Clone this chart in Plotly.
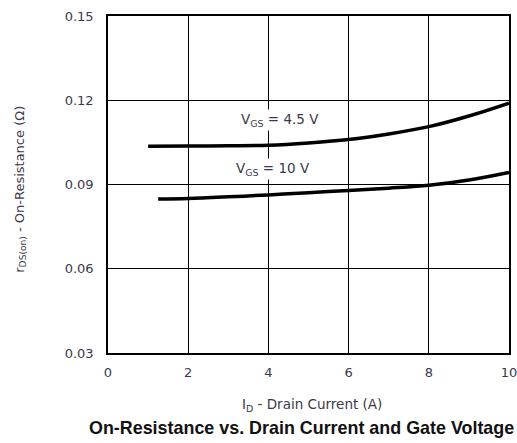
import plotly.graph_objects as go

id_45 = [1.0, 2.0, 3.0, 4.0, 5.0, 6.0, 7.0, 8.0, 9.0, 10.0]
r_45 = [0.1036, 0.1037, 0.1038, 0.1040, 0.1048, 0.1060, 0.1080, 0.1106, 0.1144, 0.1190]
id_10 = [1.25, 2.0, 3.0, 4.0, 5.0, 6.0, 7.0, 8.0, 9.0, 10.0]
r_10 = [0.0848, 0.0850, 0.0856, 0.0863, 0.0871, 0.0879, 0.0887, 0.0897, 0.0916, 0.0943]

x_ticks = [0, 2, 4, 6, 8, 10]
y_ticks = [0.03, 0.06, 0.09, 0.12, 0.15]
y_tick_text = ["0.03", "0.06", "0.09", "0.12", "0.15"]

FONT = "DejaVu Sans"
TXT = "#3a3a48"

fig = go.Figure()
fig.add_trace(go.Scatter(x=id_45, y=r_45, mode="lines", line=dict(color="black", width=3.5, shape="spline"),
                         showlegend=False, hoverinfo="skip"))
fig.add_trace(go.Scatter(x=id_10, y=r_10, mode="lines", line=dict(color="black", width=3.5, shape="spline"),
                         showlegend=False, hoverinfo="skip"))

fig.add_annotation(x=4.3, y=0.1129, text="V<sub>GS</sub> = 4.5 V", showarrow=False, bgcolor="white",
                   font=dict(family=FONT, size=13.5, color=TXT))
fig.add_annotation(x=4.12, y=0.0954, text="V<sub>GS</sub> = 10 V", showarrow=False, bgcolor="white",
                   font=dict(family=FONT, size=13.5, color=TXT))

fig.add_annotation(x=0.509, xref="paper", y=-0.153, yref="paper", yanchor="middle",
                   text="I<sub>D</sub> - Drain Current (A)", showarrow=False,
                   font=dict(family=FONT, size=13.5, color=TXT))
fig.add_annotation(x=0.4825, xref="paper", y=-0.222, yref="paper", yanchor="middle",
                   text="<b>On-Resistance vs. Drain Current and Gate Voltage</b>", showarrow=False,
                   font=dict(family="Liberation Sans, Arial", size=17.9, color="#111"))
fig.add_annotation(x=-0.219, xref="paper", y=0.485, yref="paper", xanchor="center", yanchor="middle",
                   textangle=-90, text="r<sub>DS(on)</sub> - On-Resistance (Ω)", showarrow=False,
                   font=dict(family=FONT, size=13, color=TXT))

fig.update_xaxes(range=[0, 10], tickvals=x_ticks, showgrid=True, gridcolor="black", gridwidth=1.3,
                 showline=True, linecolor="black", linewidth=1.6, mirror=True, zeroline=False,
                 automargin=False, ticks="outside", ticklen=7, tickcolor="rgba(0,0,0,0)",
                 ticklabeloverflow="allow", tickfont=dict(family=FONT, size=13, color=TXT))
fig.update_yaxes(range=[0.03, 0.15], tickvals=y_ticks, ticktext=y_tick_text, showgrid=True, gridcolor="black",
                 gridwidth=1.3, showline=True, linecolor="black", linewidth=1.6, mirror=True, zeroline=False,
                 automargin=False, ticks="outside", ticklen=10, tickcolor="rgba(0,0,0,0)",
                 tickfont=dict(family=FONT, size=13, color=TXT))

fig.update_layout(width=517, height=443, margin=dict(l=108, r=8, t=16, b=90),
                  plot_bgcolor="white", paper_bgcolor="white")
fig.write_html("out.html", config={"displayModeBar": False},
               post_script="document.body.style.margin='0';document.body.style.overflow='hidden';")
